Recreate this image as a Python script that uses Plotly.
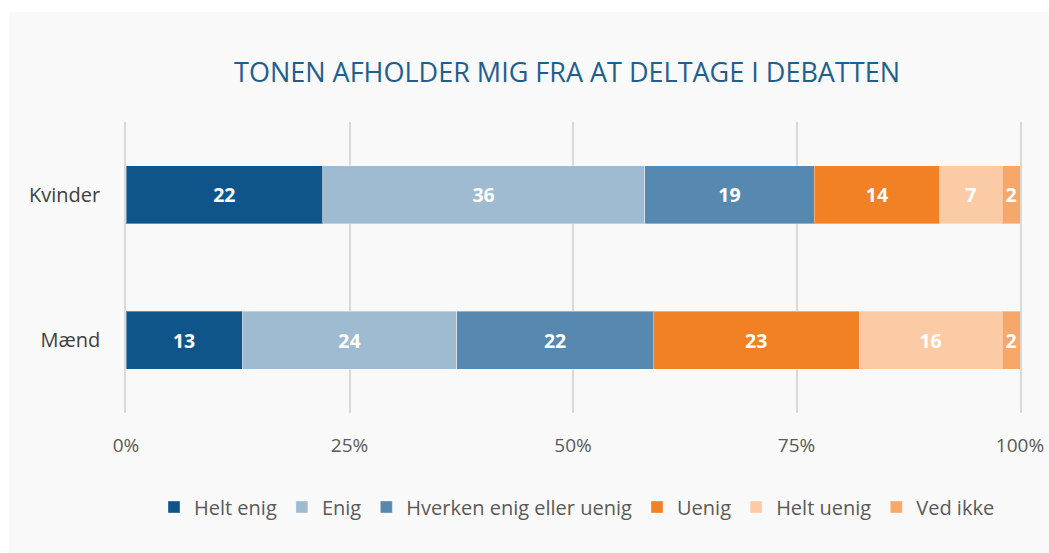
import plotly.graph_objects as go

# Survey answers, in percent of each group
groups = ["Kvinder", "Mænd"]
answers = ["Helt enig", "Enig", "Hverken enig eller uenig", "Uenig", "Helt uenig", "Ved ikke"]
kvinder = [22, 36, 19, 14, 7, 2]
maend = [13, 24, 22, 23, 16, 2]
colors = ["#10558a", "#9fbbd1", "#5789b0", "#f28024", "#fbcba5", "#f6a76a"]
tick_vals = [0, 25, 50, 75, 100]
tick_text = ["0%", "25%", "50%", "75%", "100%"]

W, H = 1049, 553
L, R, T, B = 126, 29, 122, 140
GRID = "#d9d9d9"

fig = go.Figure()
for i, name in enumerate(answers):
    vals = [kvinder[i], maend[i]]
    fig.add_trace(go.Bar(
        name=name,
        y=groups,
        x=vals,
        orientation="h",
        marker=dict(color=colors[i], line=dict(color="rgba(255,255,255,0.35)", width=1)),
        text=[str(v) for v in vals],
        textposition="inside",
        insidetextanchor="middle",
        textangle=0,
        textfont=dict(family="Open Sans", size=19.5, color="white", weight="bold"),
        constraintext="none",
        cliponaxis=False,
    ))

pw = W - L - R
ph = H - T - B
# light panel behind the chart, inset from the top and left page edges
fig.add_shape(
    type="rect", xref="paper", yref="paper", layer="below",
    x0=(9 - L) / pw, x1=(W - L) / pw,
    y0=-B / ph, y1=(T - 12 + ph) / ph,
    fillcolor="#f9f9f9", line=dict(width=0),
)

fig.update_layout(
    width=W, height=H,
    margin=dict(l=L, r=R, t=T, b=B, autoexpand=False),
    barmode="stack",
    bargap=0.6,
    paper_bgcolor="white",
    plot_bgcolor="rgba(0,0,0,0)",
    font=dict(family="Open Sans", color="#595959"),
    title=dict(
        text="TONEN AFHOLDER MIG FRA AT DELTAGE I DEBATTEN",
        x=567 / W, xanchor="center", xref="container",
        y=1 - 73 / H, yanchor="middle", yref="container",
        font=dict(family="Open Sans", size=27, color="#1f5f8f"),
    ),
    xaxis=dict(
        range=[0, 100],
        tickvals=tick_vals, ticktext=tick_text,
        showgrid=True, gridcolor=GRID, gridwidth=1.5,
        zeroline=False, showline=False,
        tickfont=dict(size=19, color="#595959"),
        ticks="outside", ticklen=15, tickcolor="rgba(0,0,0,0)",
        automargin=False,
    ),
    yaxis=dict(
        categoryorder="array", categoryarray=groups[::-1],
        showgrid=False, zeroline=False,
        showline=True, mirror=True, linecolor=GRID, linewidth=1.5,
        tickfont=dict(size=20, color="#404040"),
        ticks="outside", ticklen=20, tickcolor="rgba(0,0,0,0)",
        automargin=False,
    ),
    legend=dict(
        orientation="h",
        x=577 / W, xref="container", xanchor="center",
        y=1 - 507 / H, yref="container", yanchor="middle",
        font=dict(size=20, color="#595959"),
        traceorder="normal",
        itemwidth=30,
        bgcolor="rgba(0,0,0,0)",
    ),
    showlegend=True,
)

fig.write_html("out.html")
